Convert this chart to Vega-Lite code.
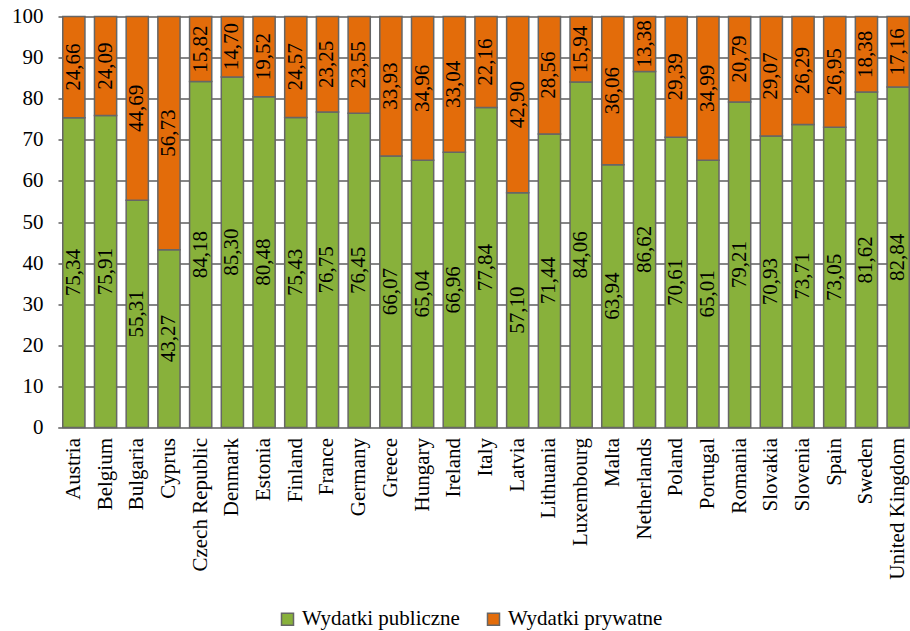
{
  "$schema": "https://vega.github.io/schema/vega-lite/v6.json",
  "autosize": {"type": "none"},
  "width": 856,
  "height": 411,
  "padding": {"left": 58, "top": 16.5, "right": 0, "bottom": 204},
  "config": {
    "locale": {"number": {"decimal": ",", "thousands": " ", "grouping": [3], "currency": ["", " zł"]}},
    "view": {"stroke": null},
    "font": "Liberation Serif"
  },
  "data": {
    "values": [
      {"country": "Austria", "type": "Wydatki publiczne", "value": 75.34},
      {"country": "Austria", "type": "Wydatki prywatne", "value": 24.66},
      {"country": "Belgium", "type": "Wydatki publiczne", "value": 75.91},
      {"country": "Belgium", "type": "Wydatki prywatne", "value": 24.09},
      {"country": "Bulgaria", "type": "Wydatki publiczne", "value": 55.31},
      {"country": "Bulgaria", "type": "Wydatki prywatne", "value": 44.69},
      {"country": "Cyprus", "type": "Wydatki publiczne", "value": 43.27},
      {"country": "Cyprus", "type": "Wydatki prywatne", "value": 56.73},
      {"country": "Czech Republic", "type": "Wydatki publiczne", "value": 84.18},
      {"country": "Czech Republic", "type": "Wydatki prywatne", "value": 15.82},
      {"country": "Denmark", "type": "Wydatki publiczne", "value": 85.30},
      {"country": "Denmark", "type": "Wydatki prywatne", "value": 14.70},
      {"country": "Estonia", "type": "Wydatki publiczne", "value": 80.48},
      {"country": "Estonia", "type": "Wydatki prywatne", "value": 19.52},
      {"country": "Finland", "type": "Wydatki publiczne", "value": 75.43},
      {"country": "Finland", "type": "Wydatki prywatne", "value": 24.57},
      {"country": "France", "type": "Wydatki publiczne", "value": 76.75},
      {"country": "France", "type": "Wydatki prywatne", "value": 23.25},
      {"country": "Germany", "type": "Wydatki publiczne", "value": 76.45},
      {"country": "Germany", "type": "Wydatki prywatne", "value": 23.55},
      {"country": "Greece", "type": "Wydatki publiczne", "value": 66.07},
      {"country": "Greece", "type": "Wydatki prywatne", "value": 33.93},
      {"country": "Hungary", "type": "Wydatki publiczne", "value": 65.04},
      {"country": "Hungary", "type": "Wydatki prywatne", "value": 34.96},
      {"country": "Ireland", "type": "Wydatki publiczne", "value": 66.96},
      {"country": "Ireland", "type": "Wydatki prywatne", "value": 33.04},
      {"country": "Italy", "type": "Wydatki publiczne", "value": 77.84},
      {"country": "Italy", "type": "Wydatki prywatne", "value": 22.16},
      {"country": "Latvia", "type": "Wydatki publiczne", "value": 57.10},
      {"country": "Latvia", "type": "Wydatki prywatne", "value": 42.90},
      {"country": "Lithuania", "type": "Wydatki publiczne", "value": 71.44},
      {"country": "Lithuania", "type": "Wydatki prywatne", "value": 28.56},
      {"country": "Luxembourg", "type": "Wydatki publiczne", "value": 84.06},
      {"country": "Luxembourg", "type": "Wydatki prywatne", "value": 15.94},
      {"country": "Malta", "type": "Wydatki publiczne", "value": 63.94},
      {"country": "Malta", "type": "Wydatki prywatne", "value": 36.06},
      {"country": "Netherlands", "type": "Wydatki publiczne", "value": 86.62},
      {"country": "Netherlands", "type": "Wydatki prywatne", "value": 13.38},
      {"country": "Poland", "type": "Wydatki publiczne", "value": 70.61},
      {"country": "Poland", "type": "Wydatki prywatne", "value": 29.39},
      {"country": "Portugal", "type": "Wydatki publiczne", "value": 65.01},
      {"country": "Portugal", "type": "Wydatki prywatne", "value": 34.99},
      {"country": "Romania", "type": "Wydatki publiczne", "value": 79.21},
      {"country": "Romania", "type": "Wydatki prywatne", "value": 20.79},
      {"country": "Slovakia", "type": "Wydatki publiczne", "value": 70.93},
      {"country": "Slovakia", "type": "Wydatki prywatne", "value": 29.07},
      {"country": "Slovenia", "type": "Wydatki publiczne", "value": 73.71},
      {"country": "Slovenia", "type": "Wydatki prywatne", "value": 26.29},
      {"country": "Spain", "type": "Wydatki publiczne", "value": 73.05},
      {"country": "Spain", "type": "Wydatki prywatne", "value": 26.95},
      {"country": "Sweden", "type": "Wydatki publiczne", "value": 81.62},
      {"country": "Sweden", "type": "Wydatki prywatne", "value": 18.38},
      {"country": "United Kingdom", "type": "Wydatki publiczne", "value": 82.84},
      {"country": "United Kingdom", "type": "Wydatki prywatne", "value": 17.16}
    ]
  },
  "encoding": {
    "x": {
      "field": "country", "type": "nominal", "sort": null,
      "scale": {"paddingInner": 0.3, "paddingOuter": 0.15},
      "axis": {"title": null, "labelAngle": -90, "labelAlign": "right", "labelBaseline": "middle", "labelPadding": 10, "labelFont": "Liberation Serif", "labelFontSize": 21, "labelColor": "#000000", "ticks": false, "domainColor": "#868686", "domainWidth": 2}
    },
    "y": {
      "field": "value", "type": "quantitative", "stack": "zero",
      "scale": {"domain": [0, 100], "nice": false},
      "axis": {"title": null, "values": [0, 10, 20, 30, 40, 50, 60, 70, 80, 90, 100], "domain": false, "ticks": false, "labelPadding": 15, "labelFont": "Liberation Serif", "labelFontSize": 21, "labelColor": "#000000", "gridColor": "#868686", "gridWidth": 2}
    },
    "order": {"field": "type", "sort": "descending"}
  },
  "layer": [
    {
      "mark": {"type": "bar", "stroke": "#666666", "strokeWidth": 1.5},
      "encoding": {
        "color": {
          "field": "type", "type": "nominal",
          "sort": ["Wydatki publiczne", "Wydatki prywatne"],
          "scale": {"domain": ["Wydatki publiczne", "Wydatki prywatne"], "range": ["#88B13B", "#E36C0A"]},
          "legend": {"title": null, "orient": "none", "direction": "horizontal", "legendX": 219, "legendY": 592, "symbolType": "square", "symbolSize": 144, "symbolStrokeColor": "#666666", "symbolStrokeWidth": 1.5, "symbolOpacity": 1, "labelOffset": 4, "columnPadding": 23, "padding": 0, "labelFont": "Liberation Serif", "labelFontSize": 21, "labelColor": "#000000", "labelLimit": 300}
        }
      }
    },
    {
      "mark": {"type": "text", "angle": 270, "fontSize": 21, "font": "Liberation Serif", "color": "#000000", "align": "center", "baseline": "middle"},
      "encoding": {
        "y": {"field": "value", "type": "quantitative", "stack": "zero", "bandPosition": 0.5},
        "text": {"field": "value", "type": "quantitative", "format": ".2f"},
        "detail": {"field": "type"}
      }
    }
  ]
}
